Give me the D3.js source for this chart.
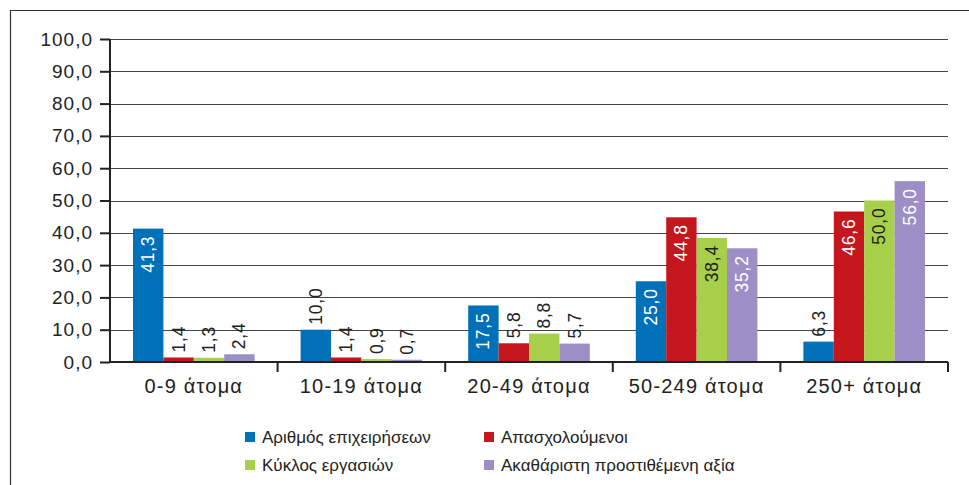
<!DOCTYPE html>
<html>
<head>
<meta charset="utf-8">
<script src="https://cdn.jsdelivr.net/npm/d3@7"></script>
<style>
  html, body { margin: 0; padding: 0; background: #fff; }
  svg { display: block; font-family: "Liberation Sans", Arial, Helvetica, sans-serif; }
</style>
</head>
<body>
<svg id="chart" width="969" height="485"></svg>
<script>
// Size classes of enterprises
const categories = ["0-9 άτομα", "10-19 άτομα", "20-49 άτομα", "50-249 άτομα", "250+ άτομα"];

// Series names (legend order)
const seriesNames = [
  "Αριθμός επιχειρήσεων",
  "Απασχολούμενοι",
  "Κύκλος εργασιών",
  "Ακαθάριστη προστιθέμενη αξία"
];

// Share (%) per size class, one array per series
const enterprises = [41.3, 10.0, 17.5, 25.0, 6.3];
const employed    = [1.4, 1.4, 5.8, 44.8, 46.6];
const turnover    = [1.3, 0.9, 8.8, 38.4, 50.0];
const valueAdded  = [2.4, 0.7, 5.7, 35.2, 56.0];

const yTicks = [0, 10, 20, 30, 40, 50, 60, 70, 80, 90, 100];

const colors = ["#0070b9", "#c5161d", "#a7cf4a", "#9d8fc5"];
const insideText = ["#ffffff", "#ffffff", "#222222", "#ffffff"];

const seriesValues = [enterprises, employed, turnover, valueAdded];

const svg = d3.select("#chart");
const mainFont = "'Liberation Sans', Arial, sans-serif";

// Outer frame (top and left rules)
svg.append("line").attr("x1", 10).attr("x2", 969).attr("y1", 10.5).attr("y2", 10.5)
  .attr("stroke", "#333").attr("stroke-width", 1.2);
svg.append("line").attr("x1", 10.5).attr("x2", 10.5).attr("y1", 10).attr("y2", 485)
  .attr("stroke", "#333").attr("stroke-width", 1.2);

const plot = { left: 110, right: 948, top: 39, bottom: 362 };

const x0 = d3.scaleBand().domain(categories).range([plot.left, plot.right]).padding(0);
const groupPad = 23;
const x1 = d3.scaleBand().domain(d3.range(seriesNames.length))
  .range([groupPad, x0.bandwidth() - groupPad]).padding(0);
const y = d3.scaleLinear().domain([0, 100]).range([plot.bottom, plot.top]);

const fmt = v => v.toFixed(1).replace(".", ",");

// Gridlines
svg.append("g").selectAll("line").data(yTicks.filter(d => d > 0)).join("line")
  .attr("x1", plot.left).attr("x2", plot.right)
  .attr("y1", d => Math.round(y(d)) + 0.5).attr("y2", d => Math.round(y(d)) + 0.5)
  .attr("stroke", "#444").attr("stroke-width", 1);

// Bars with value labels
const groups = svg.append("g").selectAll("g").data(categories).join("g")
  .attr("transform", d => `translate(${x0(d)},0)`);

groups.each(function (cat, ci) {
  const g = d3.select(this);
  seriesValues.forEach((vals, si) => {
    const v = vals[ci];
    const bx = x1(si);
    const bw = x1.bandwidth();
    g.append("rect")
      .attr("x", bx).attr("width", bw)
      .attr("y", y(v)).attr("height", y(0) - y(v))
      .attr("fill", colors[si]);

    const inside = v >= 15;
    const cx = bx + bw / 2;
    const ty = inside ? y(v) + 7 : y(v) - 5;
    g.append("text")
      .attr("transform", `translate(${cx},${ty}) rotate(-90)`)
      .attr("text-anchor", inside ? "end" : "start")
      .attr("dominant-baseline", "central")
      .attr("font-family", mainFont)
      .attr("font-size", 17.5)
      .attr("letter-spacing", 0.8)
      .attr("fill", inside ? insideText[si] : "#222")
      .text(fmt(v));
  });
});

// Y axis
const yAxis = d3.axisLeft(y).tickValues(yTicks).tickFormat(fmt).tickSize(10).tickPadding(7);
const gy = svg.append("g").attr("transform", `translate(${plot.left},0)`).call(yAxis);
gy.select(".domain").attr("stroke", "#222").attr("stroke-width", 2)
  .attr("d", `M0,${plot.top}V${plot.bottom}`);
gy.selectAll(".tick line").attr("stroke", "#222").attr("stroke-width", 2);
gy.selectAll(".tick text").attr("font-size", 19).attr("letter-spacing", 1).attr("fill", "#222")
  .attr("font-family", mainFont);

// X axis
const xAxis = d3.axisBottom(x0).tickSize(0).tickPadding(0);
const gx = svg.append("g").attr("transform", `translate(0,${plot.bottom})`).call(xAxis);
gx.select(".domain").attr("stroke", "#222").attr("stroke-width", 2)
  .attr("d", `M${plot.left},0H${plot.right}`);
gx.selectAll(".tick text").attr("font-size", 20).attr("letter-spacing", 1.2).attr("fill", "#222")
  .attr("font-family", mainFont)
  .attr("y", 31).attr("dy", 0);
// Category separators
const seps = categories.map(c => x0(c)).concat([plot.right]).slice(1);
gx.append("g").selectAll("line").data(seps).join("line")
  .attr("x1", d => d).attr("x2", d => d).attr("y1", 0).attr("y2", 10)
  .attr("stroke", "#222").attr("stroke-width", 2);

// Legend
const legendPos = [[245, 437], [484, 437], [245, 465], [484, 465]];
const legend = svg.append("g").selectAll("g").data(seriesNames).join("g")
  .attr("transform", (d, i) => `translate(${legendPos[i][0]},${legendPos[i][1]})`);
legend.append("rect").attr("x", 0).attr("y", -5).attr("width", 10).attr("height", 10)
  .attr("fill", (d, i) => colors[i]);
legend.append("text").attr("x", 17).attr("y", 0).attr("dominant-baseline", "central")
  .attr("font-family", mainFont)
  .attr("font-size", 17).attr("fill", "#222").text(d => d);
</script>
</body>
</html>
